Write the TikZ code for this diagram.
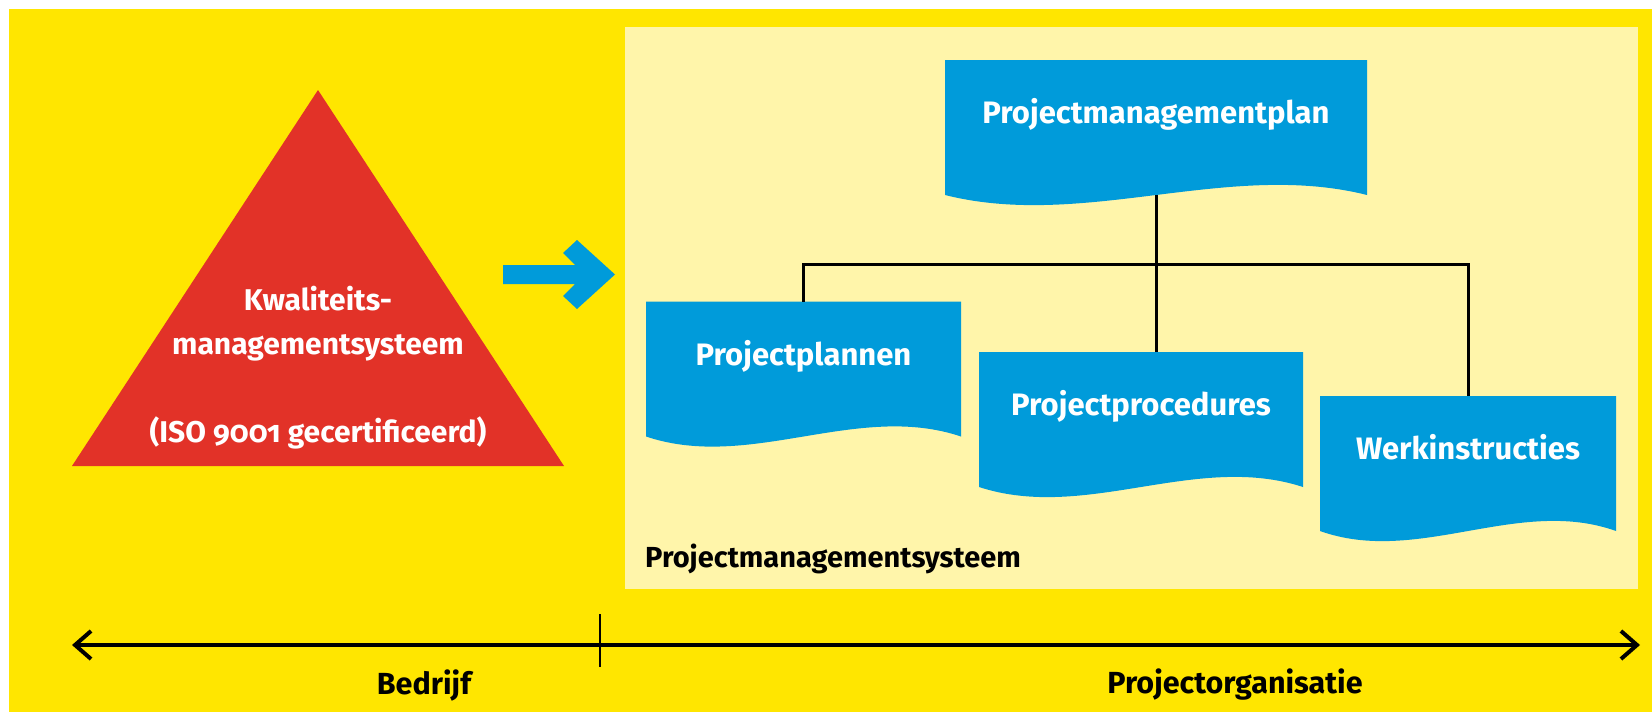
\documentclass[tikz,border=0pt]{standalone}
\usepackage{fontspec}
\setmainfont{Fira Sans}[RawFeature=+onum]
\usetikzlibrary{calc,arrows.meta,backgrounds}
\definecolor{geel}{RGB}{255,230,0}
\definecolor{lichtgeel}{RGB}{255,245,170}
\definecolor{blauw}{RGB}{0,155,218}
\definecolor{rood}{RGB}{226,50,40}
\tikzset{
	blad/.style={rectangle, minimum height=135pt, inner sep=0pt, outer sep=0pt, text=white,
		font=\bfseries\fontsize{31}{36}\selectfont, text height=24pt, text depth=32pt},
	lijn/.style={line width=3pt, black},
	as/.style={line width=4pt, {Straight Barb[length=16pt,width=28pt]}-{Straight Barb[length=16pt,width=28pt]}},
	tekst/.style={inner sep=0pt, text=black, font=\bfseries\fontsize{30.5}{34}\selectfont},
}
\begin{document}
\begin{tikzpicture}[x=1pt,y=-1pt]
					\useasboundingbox (0,0) rectangle (1652,712);
					
					\node[blad, minimum width=422pt] (pmp) at (1156,127.5) {Projectmanagementplan};
					\node[blad, minimum width=315pt] (plan) at (803.5,369) {Projectplannen};
					\node[blad, minimum width=324pt] (proc) at (1141,419.5) {Projectprocedures};
					\node[blad, minimum width=296pt] (werk) at (1468,463.5) {Werkinstructies};
					
					\begin{scope}[on background layer]
						\fill[white] (0,0) rectangle (1652,712);
						\fill[geel] (9,9) rectangle (1652,712);
						\fill[lichtgeel] (625,27) rectangle (1638,589);
						\fill[rood] (318,90) -- (564,466) -- (72,466) -- cycle;
						\fill[blauw] (503,265) -- (575,265) -- (563,253) -- (577,240) -- (615,274.5)
							-- (577,309) -- (563,296) -- (575,284) -- (503,284) -- cycle;
						\foreach \n in {pmp,plan,proc,werk}
							\fill[blauw] (\n.north west) -- (\n.north east) -- (\n.south east)
								.. controls ($(\n.south west)!0.67!(\n.south east)+(0,-35)$)
								and ($(\n.south west)!0.33!(\n.south east)+(0,35)$) .. (\n.south west) -- cycle;
					\end{scope}
					
					\node[text=white, align=center, font=\bfseries\fontsize{30}{44}\selectfont] (kms) at (318,368)
						{Kwaliteits-\\managementsysteem\\[44pt](ISO 9001 gecertificeerd)};
					\node[tekst, anchor=west, font=\bfseries\fontsize{29}{34}\selectfont] (pms) at (645,559) {Projectmanagementsysteem};
					
					\coordinate (bus) at (1156,264);
					\draw[lijn] (pmp.south) -- (pmp.south |- proc.north);
					\draw[lijn] (plan.north) |- (bus) -| (werk.north);
					
					\coordinate (links) at (72,645);
					\coordinate (rechts) at (1640,645);
					\coordinate (grens) at (600,614);
					\draw[as] (links) -- (rechts);
					\draw[line width=2pt] (grens) -- ++(0,53);
					\node[tekst] (bedrijf) at (424,685) {Bedrijf};
					\node[tekst] (org) at (1235,685) {Projectorganisatie};
\end{tikzpicture}
\end{document}
